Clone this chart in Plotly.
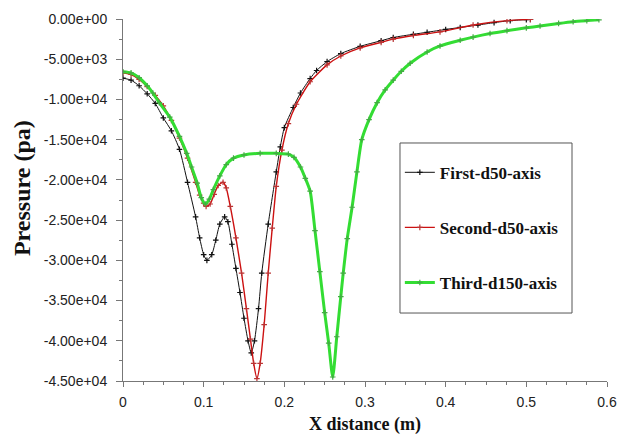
import plotly.graph_objects as go

# ---- data ----
first_x = [0, 0.01, 0.02, 0.03, 0.04, 0.05, 0.06, 0.07, 0.08, 0.09, 0.095, 0.10, 0.104,
           0.11, 0.115, 0.12, 0.126, 0.13, 0.135, 0.14, 0.145, 0.15, 0.155, 0.159, 0.163,
           0.168, 0.172, 0.18, 0.19, 0.195, 0.2, 0.211, 0.22, 0.232, 0.24, 0.253, 0.27,
           0.294, 0.32, 0.335, 0.36, 0.377, 0.40, 0.418, 0.44, 0.46, 0.48, 0.50, 0.505]
first_y = [-7350, -7600, -8300, -9300, -10500, -12300, -13900, -16200, -20300, -24600,
           -27200, -29300, -30000, -29300, -27500, -25500, -24600, -25200, -28000, -31000,
           -34000, -37200, -40000, -41500, -40000, -36000, -31600, -25500, -19000, -15900,
           -13500, -11000, -9200, -7400, -6400, -5300, -4300, -3400, -2700, -2300, -1900,
           -1650, -1300, -1050, -750, -450, -200, -80, -50]

second_x = [0, 0.01, 0.02, 0.03, 0.04, 0.05, 0.06, 0.07, 0.08, 0.09, 0.095, 0.10, 0.103,
            0.108, 0.113, 0.118, 0.124, 0.128, 0.133, 0.14, 0.147, 0.153, 0.158, 0.162,
            0.166, 0.17, 0.175, 0.18, 0.185, 0.19, 0.197, 0.205, 0.215, 0.232, 0.253,
            0.27, 0.294, 0.32, 0.335, 0.36, 0.393, 0.434, 0.476, 0.505]
second_y = [-6700, -6900, -7500, -8400, -9500, -10800, -12600, -14800, -17300, -20300,
            -21900, -22900, -23300, -23000, -21800, -20700, -20300, -21000, -23300, -27200,
            -31600, -36000, -39800, -42800, -44700, -42800, -38000, -31600, -26000, -20800,
            -16300, -13000, -10600, -7800, -5700, -4600, -3600, -2900, -2500, -2050, -1600,
            -750, -200, -50]

third_x = [0, 0.01, 0.02, 0.03, 0.037, 0.045, 0.058, 0.07, 0.079, 0.085, 0.092, 0.097,
           0.102, 0.107, 0.112, 0.12, 0.128, 0.137, 0.15, 0.17, 0.19, 0.205, 0.212, 0.22,
           0.226, 0.232, 0.238, 0.244, 0.25, 0.255, 0.26, 0.265, 0.27, 0.273, 0.278, 0.284,
           0.29, 0.296, 0.305, 0.315, 0.325, 0.335, 0.345, 0.356, 0.377, 0.393, 0.418,
           0.434, 0.455, 0.476, 0.5, 0.517, 0.54, 0.558, 0.575, 0.59]
third_y = [-6550, -6700, -7300, -8300, -9200, -10400, -12200, -14600, -16700, -18400,
           -20400, -22200, -23000, -22400, -21200, -19500, -18100, -17300, -16900, -16700,
           -16700, -16800, -17200, -18400, -19800, -21400, -26300, -31400, -36500, -40300,
           -44500, -39500, -34500, -31600, -27300, -23400, -19000, -15000, -12500, -10400,
           -8800, -7600, -6500, -5500, -4100, -3350, -2650, -2250, -1800, -1450, -1100,
           -870, -550, -330, -200, -100]

series_names = ["First-d50-axis", "Second-d50-axis", "Third-d150-axis"]

y_tick_vals = [0, -5000, -10000, -15000, -20000, -25000, -30000, -35000, -40000, -45000]
y_tick_text = ["0.00e+00", "-5.00e+03", "-1.00e+04", "-1.50e+04", "-2.00e+04",
               "-2.50e+04", "-3.00e+04", "-3.50e+04", "-4.00e+04", "-4.50e+04"]
x_tick_vals = [0, 0.1, 0.2, 0.3, 0.4, 0.5, 0.6]
x_tick_text = ["0", "0.1", "0.2", "0.3", "0.4", "0.5", "0.6"]

fig = go.Figure()
styles = [
    dict(line=dict(color="#111111", width=1), marker=dict(color="#111111", symbol="cross-thin", size=4, line=dict(width=1.2, color="#111111"))),
    dict(line=dict(color="#cc1111", width=1.4), marker=dict(color="#bb3333", symbol="cross-thin", size=4, line=dict(width=1.2, color="#bb3333"))),
    dict(line=dict(color="#33dd33", width=3), marker=dict(color="#44aa44", symbol="cross-thin", size=4, line=dict(width=1.2, color="#44aa44"))),
]
for i, (xs, ys) in enumerate([(first_x, first_y), (second_x, second_y), (third_x, third_y)]):
    fig.add_trace(go.Scatter(x=xs, y=ys, mode="lines+markers", name=series_names[i],
                             legendgroup=str(i), line_shape="spline",
                             line=dict(styles[i]["line"], smoothing=0.6),
                             marker=styles[i]["marker"]))

serif = "Liberation Serif, Times New Roman, serif"
fig.update_layout(
    width=618, height=434,
    margin=dict(l=123, r=11, t=19, b=53, autoexpand=False),
    paper_bgcolor="white", plot_bgcolor="white",
    font=dict(family="Liberation Sans, Arial", size=14, color="#222222"),
    showlegend=True,
    legend=dict(x=0.572, y=0.625, xanchor="left", yanchor="top",
                borderwidth=0, bgcolor="rgba(0,0,0,0)",
                font=dict(family=serif, size=17, color="#111111", weight="bold"),
                tracegroupgap=30, itemwidth=30),
    shapes=[dict(type="rect", xref="paper", yref="paper", x0=0.5723, x1=0.9277,
                 y0=0.1878, y1=0.6575, line=dict(color="#555555", width=1))],
    annotations=[dict(text="<b>Pressure (pa)</b>", textangle=-90, xref="paper", yref="paper",
                      x=-0.2087, y=0.533, xanchor="center", yanchor="middle", showarrow=False,
                      font=dict(family=serif, size=24, color="#111111")),
                 dict(text="<b>X distance (m)</b>", xref="paper", yref="paper",
                      x=0.5, y=0, yshift=-43, xanchor="center", yanchor="middle", showarrow=False,
                      font=dict(family=serif, size=18, color="#111111"))],
    xaxis=dict(range=[0, 0.6], tickvals=x_tick_vals, ticktext=x_tick_text, automargin=False,
               showgrid=False, zeroline=False, showline=True, linecolor="#777777", linewidth=1,
               ticks="outside", ticklen=5, tickcolor="#777777", ticklabelstandoff=3,
               minor=dict(dtick=0.025, ticks="outside", ticklen=3, tickcolor="#777777", showgrid=False)),
    yaxis=dict(range=[-45000, 0], tickvals=y_tick_vals, ticktext=y_tick_text, automargin=False,
               showgrid=False, zeroline=False, showline=True, linecolor="#777777", linewidth=1,
               ticks="outside", ticklen=6, tickcolor="#777777", ticklabelstandoff=6,
               minor=dict(dtick=2500, ticks="outside", ticklen=3, tickcolor="#777777", showgrid=False)),
)

fig.write_html("out.html")
